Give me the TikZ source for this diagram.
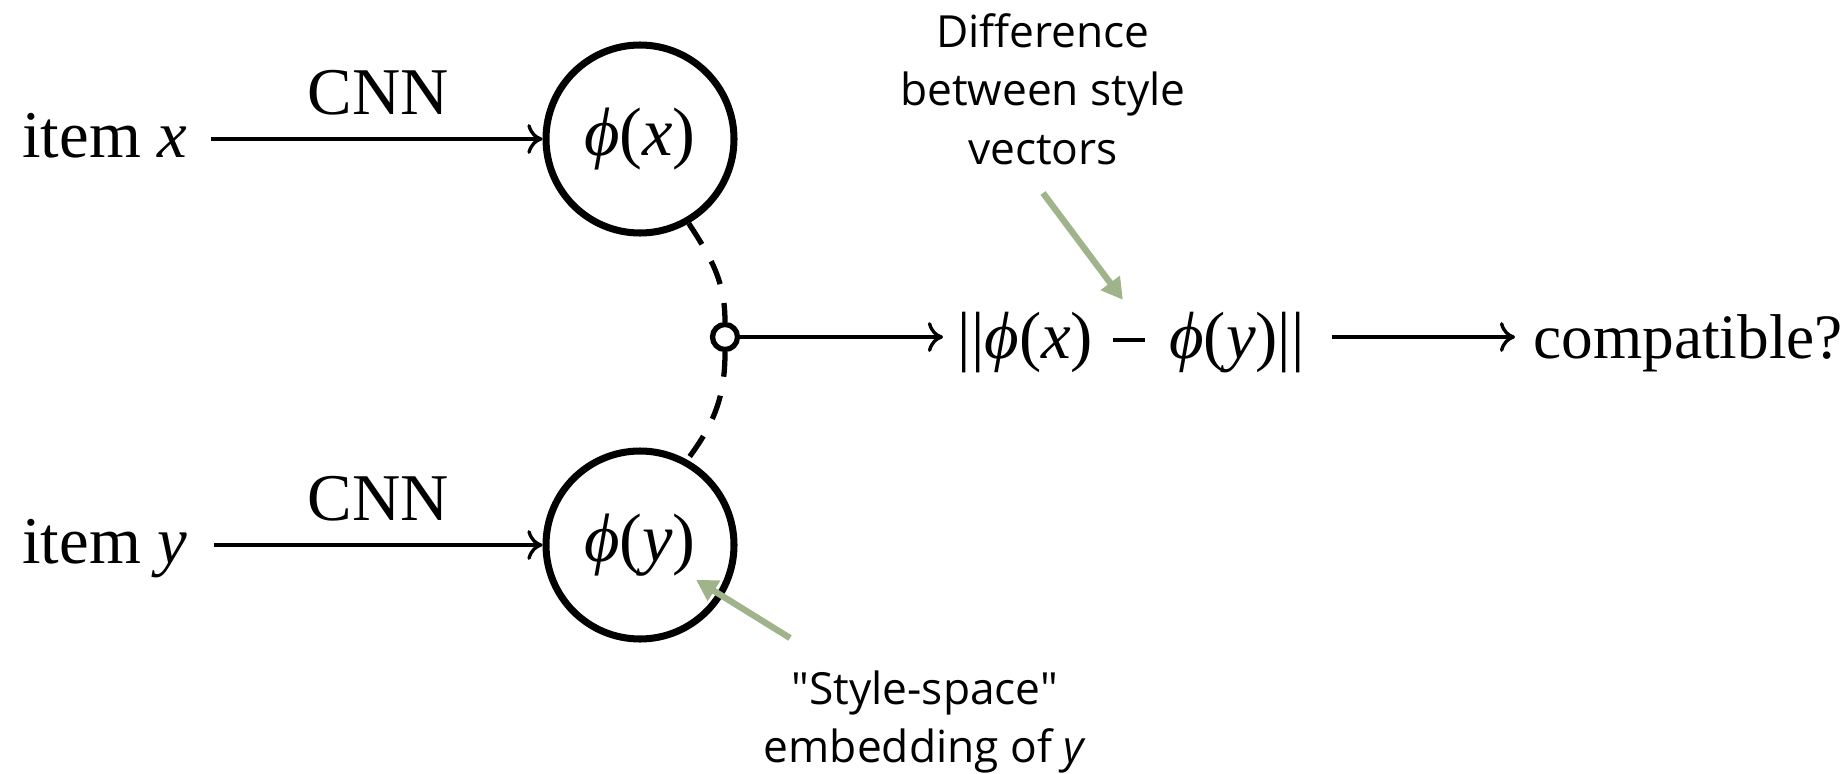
\documentclass[tikz,border=0pt]{standalone}
\usepackage{fontspec}
\setmainfont{Liberation Serif}
\newfontfamily\notefont{Open Sans}
\usetikzlibrary{arrows.meta}
\definecolor{anno}{RGB}{160,180,140}
\newcommand{\myphi}{\textit{ϕ}}
\newcommand{\myminus}{\hspace{0.3em}\rule[0.24em]{0.48em}{0.055em}\hspace{0.36em}}
\begin{document}
\begin{tikzpicture}[
  x=1cm,y=1cm,
  txt/.style={font=\fontsize{19}{23}\selectfont, inner sep=0pt},
  emb/.style={circle, draw, line width=2pt, minimum size=1.88cm, inner sep=0pt, fill=white, font=\fontsize{19.5}{23}\selectfont},
  junc/.style={circle, draw, line width=1.5pt, minimum size=0.25cm, inner sep=0pt, fill=white},
  flow/.style={line width=0.95pt, -{Computer Modern Rightarrow[length=4.3pt,width=8.5pt]}},
  link/.style={line width=1.5pt, dash pattern=on 7pt off 5.5pt},
  note/.style={font=\notefont\fontsize{12.6}{16.6}\selectfont, align=center, inner sep=0pt},
  pointer/.style={draw=anno, line width=1.8pt, -{Triangle[length=6pt,width=6.5pt]}, anno}
]
\useasboundingbox (0,0) rectangle (18.42,7.73);
\node[emb] (px) at (6.40,6.34) {\myphi(\textit{x})};
\node[emb] (py) at (6.40,2.28) {\myphi(\textit{y})};
\node[junc] (j) at (7.25,4.36) {};
\node[txt, anchor=base east] (ix) at (1.88,6.16) {item \textit{x}};
\node[txt, anchor=base east] (iy) at (1.88,2.10) {item \textit{y}};
\node[txt, anchor=base] (cx) at (3.78,6.59) {CNN};
\node[txt, anchor=base] (cy) at (3.78,2.53) {CNN};
\node[txt, anchor=base west] (diff) at (9.57,4.15) {||\myphi(\textit{x})\myminus\myphi(\textit{y})||};
\node[txt, font=\fontsize{18}{22}\selectfont, anchor=base west] (comp) at (15.33,4.15) {compatible?};

\draw[flow, shorten <=0.23cm] (ix.east |- px) -- (px);
\draw[flow, shorten <=0.26cm] (iy.east |- py) -- (py);
\draw[flow, shorten >=0.14cm] (j.east) -- (j -| diff.west);
\draw[flow, shorten <=0.27cm, shorten >=0.18cm] (diff.east |- j) -- (comp.west |- j);
\draw[link] (px.-60) to[out=-57,in=90] (j.north);
\draw[link] (j.south) to[out=-90,in=53] (py.61);

\node[note, anchor=north] (n1) at (10.43,7.60) {Difference\\between style\\vectors};
\node[note, anchor=north] (n2) at (9.25,1.03) {\textquotedbl Style-space\textquotedbl\\embedding of \textit{y}};

\coordinate (t1) at (10.43,5.80);
\draw[pointer, shorten >=0.14cm] (t1) -- (diff.north);
\coordinate (t2) at (7.90,1.35);
\draw[pointer, shorten >=0.66cm] (t2) -- (py.center);
\end{tikzpicture}
\end{document}
